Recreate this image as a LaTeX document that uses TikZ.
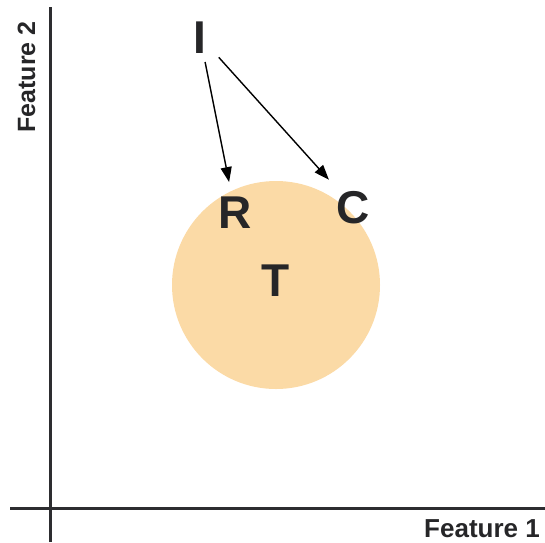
\documentclass[tikz,border=0pt]{standalone}
\usepackage{fontspec}
\setmainfont{Liberation Sans}
\usetikzlibrary{arrows.meta}
\definecolor{inkdark}{RGB}{38,38,40}
\definecolor{axisgrey}{RGB}{45,45,48}
\definecolor{blobfill}{RGB}{251,218,166}
\begin{document}
\begin{tikzpicture}[x=1pt,y=-1pt,
  letter/.style={inner sep=0pt, text height=33pt, text depth=0pt,
    text=inkdark, font=\fontsize{46}{50}\selectfont\bfseries},
  axislabel/.style={inner sep=0pt, text=inkdark,
    font=\fontsize{25}{28}\selectfont\bfseries},
  axisline/.style={draw=axisgrey, line width=3pt},
  pointer/.style={draw=black, line width=1.4pt,
    -{Triangle[length=15pt,width=11pt]}}]
  \useasboundingbox (0,0) rectangle (545,542);
  % axes
  \coordinate (ytop) at (50,7);
  \coordinate (ybot) at (50,542);
  \coordinate (xleft) at (10,508);
  \coordinate (xright) at (545,508);
  \draw[axisline] (ybot) -- (ytop);
  \draw[axisline] (xleft) -- (xright);
  \node[axislabel, font=\fontsize{26}{29}\selectfont\bfseries,
    text depth=0pt, anchor=base east] (f1) at (540,537) {Feature 1};
  \node[axislabel, rotate=90, anchor=base] (f2) at (35,77) {Feature 2};
  % cluster region
  \node[circle, fill=blobfill, minimum size=208pt, inner sep=0pt] (blob) at (276,285) {};
  % points
  \node[letter] (I) at (200,36.5) {I};
  \node[letter] (R) at (235,211.5) {R};
  \node[letter] (C) at (353,206.5) {C};
  \node[letter] (T) at (276,280) {T};
  % arrows
  \draw[pointer, shorten <=26pt, shorten >=30pt] (I.center) -- (R.center);
  \draw[pointer, shorten <=28pt, shorten >=36pt] (I.center) -- (C.center);
\end{tikzpicture}
\end{document}
